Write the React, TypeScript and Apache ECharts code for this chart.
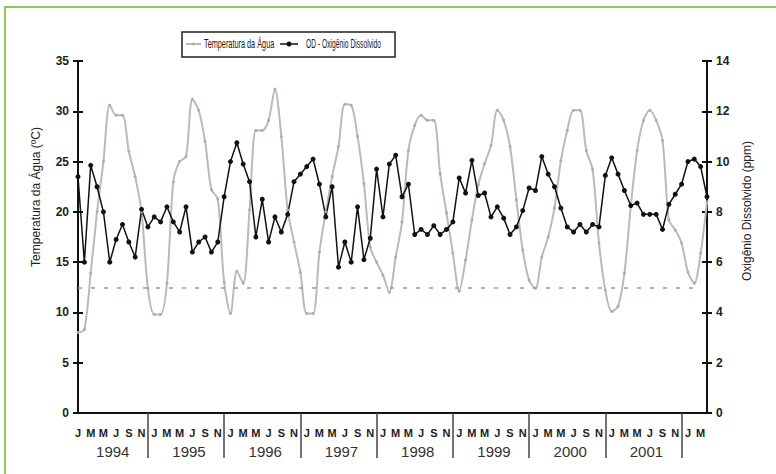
import React, { useEffect, useRef } from "react";
import * as echarts from "echarts";

const START_YEAR = 1994;
const MONTH_COUNT = 100;
const monthLetters = ["J", "F", "M", "A", "M", "J", "J", "A", "S", "O", "N", "D"];
const categories: string[] = Array.from({ length: MONTH_COUNT }, (_, i) => `${START_YEAR + Math.floor(i / 12)}/${(i % 12) + 1}`);

const temperatura = [
  8.0, 8.3, 13.9, 20.0, 25.0, 30.6, 29.6, 29.6, 26.0, 23.5, 20.0, 12.4,
  9.8, 9.8, 12.9, 23.0, 25.0, 25.5, 31.2, 30.1, 27.0, 22.2, 21.3, 13.0,
  9.9, 14.1, 12.9, 20.2, 28.1, 28.1, 29.1, 32.2, 27.5, 20.2, 17.0, 14.0,
  9.9, 9.9, 16.0, 20.0, 23.5, 26.5, 30.7, 30.6, 27.5, 22.8, 16.5, 15.0,
  13.7, 12.0, 15.5, 19.0, 26.1, 28.6, 29.6, 29.1, 29.1, 23.8, 19.9, 15.9,
  12.1, 15.2, 19.2, 22.7, 24.8, 26.6, 30.1, 29.1, 26.5, 21.2, 16.2, 13.2,
  12.4, 15.5, 17.5, 20.4, 25.1, 28.1, 30.1, 30.1, 26.1, 24.2, 16.9, 12.2,
  10.1, 10.6, 13.9, 20.5, 26.1, 29.1, 30.1, 29.1, 27.1, 19.2, 18.2, 16.9,
  14.0, 12.9, 15.9, 21.0,
];

const oxigenio = [
  9.4, 6.0, 9.85, 9.0, 8.0, 6.0, 6.9, 7.5, 6.8, 6.2, 8.1, 7.4,
  7.8, 7.6, 8.2, 7.6, 7.2, 8.2, 6.4, 6.8, 7.0, 6.4, 6.8, 8.6,
  10.0, 10.75, 9.9, 9.2, 7.0, 8.5, 6.8, 7.8, 7.2, 7.9, 9.2, 9.5,
  9.8, 10.1, 9.1, 7.8, 9.0, 5.8, 6.8, 6.0, 8.2, 6.1, 6.95, 9.7,
  7.8, 9.9, 10.25, 8.6, 9.1, 7.1, 7.3, 7.1, 7.45, 7.1, 7.3, 7.6,
  9.35, 8.75, 10.05, 8.65, 8.75, 7.8, 8.2, 7.75, 7.1, 7.4, 8.05, 8.95,
  8.85, 10.2, 9.5, 9.0, 8.15, 7.4, 7.2, 7.5, 7.2, 7.5, 7.4, 9.45,
  10.15, 9.5, 8.85, 8.25, 8.35, 7.9, 7.9, 7.9, 7.3, 8.3, 8.7, 9.1,
  10.0, 10.1, 9.8, 8.6,
];

const limiteTemperatura = 12.5;
const tempTicks = { min: 0, max: 35, interval: 5 };
const odTicks = { min: 0, max: 14, interval: 2 };
const legendNames = ["Temperatura da Água", "OD - Oxigênio Dissolvido"];

const FONT = "'Liberation Sans', Arial, sans-serif";
const GRAY = "#c0b8b5";
const BLACK = "#111";

export default function App() {
  const ref = useRef<HTMLDivElement>(null);
  useEffect(() => {
    if (!ref.current) return;
    const chart = echarts.init(ref.current, undefined, { renderer: "svg" });
    const axisLineStyle = { color: "#111", width: 2 };
    const legendText = (text: string, x: number, scaleX: number) => ({
      type: "text",
      x,
      y: 44,
      scaleX,
      style: { text, fontSize: 12, fontFamily: FONT, fill: "#1a1a1a", align: "left", verticalAlign: "middle" },
    });
    chart.setOption({
      animation: false,
      backgroundColor: "#ffffff",
      textStyle: { fontFamily: FONT },
      grid: { left: 78, right: 69, top: 61, bottom: 61, containLabel: false },
      xAxis: [
        {
          type: "category",
          data: categories,
          boundaryGap: false,
          position: "bottom",
          axisLine: { lineStyle: axisLineStyle },
          axisTick: { show: false },
          axisLabel: {
            interval: (i: number) => i % 2 === 0,
            formatter: (v: string) => monthLetters[Number(v.split("/")[1]) - 1],
            fontWeight: "bold",
            fontSize: 11,
            color: "#222",
            margin: 14,
          },
          splitLine: { show: false },
        },
        {
          type: "category",
          data: categories,
          boundaryGap: false,
          position: "bottom",
          axisLine: { show: false },
          axisTick: {
            show: true,
            interval: (i: number) => i % 12 === 11,
            length: 45,
            lineStyle: { color: "#444", width: 1.5 },
          },
          axisLabel: {
            interval: (i: number) => i % 12 === 5,
            formatter: (v: string) => v.split("/")[0],
            fontSize: 15,
            color: "#333",
            margin: 31,
            padding: [0, 0, 0, 6],
          },
          splitLine: { show: false },
        },
      ],
      yAxis: [
        {
          type: "value",
          position: "left",
          ...tempTicks,
          axisLine: { show: true, lineStyle: axisLineStyle },
          axisTick: { show: true, length: 5, lineStyle: axisLineStyle },
          axisLabel: { fontWeight: "bold", fontSize: 12, color: "#222", margin: 9 },
          splitLine: { show: false },
        },
        {
          type: "value",
          position: "right",
          ...odTicks,
          axisLine: { show: true, lineStyle: axisLineStyle },
          axisTick: { show: true, length: 5, lineStyle: axisLineStyle },
          axisLabel: { fontWeight: "bold", fontSize: 12, color: "#222", margin: 9 },
          splitLine: { show: false },
        },
        {
          type: "value",
          position: "left",
          ...tempTicks,
          axisLine: { show: false },
          axisTick: { show: true, inside: true, length: 5, lineStyle: axisLineStyle },
          axisLabel: { show: false },
          splitLine: { show: false },
        },
        {
          type: "value",
          position: "right",
          ...odTicks,
          axisLine: { show: false },
          axisTick: { show: true, inside: true, length: 5, lineStyle: axisLineStyle },
          axisLabel: { show: false },
          splitLine: { show: false },
        },
      ],
      series: [
        {
          name: legendNames[0],
          type: "line",
          xAxisIndex: 0,
          yAxisIndex: 0,
          data: temperatura,
          symbol: "circle",
          symbolSize: 3,
          showSymbol: true,
          showAllSymbol: true,
          smooth: 0.3,
          lineStyle: { color: GRAY, width: 2 },
          itemStyle: { color: "#b3aba8" },
          markLine: {
            silent: true,
            symbol: ["none", "none"],
            label: { show: false },
            lineStyle: { type: [4, 9], color: "#b0928a", width: 1.5 },
            data: [[{ coord: [categories[0], limiteTemperatura] }, { coord: [categories[98], limiteTemperatura] }]],
          },
        },
        {
          name: legendNames[1],
          type: "line",
          xAxisIndex: 0,
          yAxisIndex: 1,
          data: oxigenio,
          symbol: "circle",
          symbolSize: 5,
          showSymbol: true,
          showAllSymbol: true,
          lineStyle: { color: BLACK, width: 1.5 },
          itemStyle: { color: BLACK },
        },
      ],
      graphic: [
        {
          type: "rect",
          shape: { x: 5, y: 7, width: 800, height: 480 },
          style: { fill: "none", stroke: "#8cc95c", lineWidth: 2 },
          silent: true,
        },
        {
          type: "rect",
          shape: { x: 182, y: 32, width: 213, height: 25 },
          style: { fill: "#fff", stroke: "#222", lineWidth: 1.5 },
          silent: true,
        },
        { type: "line", shape: { x1: 186, y1: 44, x2: 201, y2: 44 }, style: { stroke: GRAY, lineWidth: 2 } },
        { type: "circle", shape: { cx: 193.5, cy: 44, r: 1.5 }, style: { fill: "#b3aba8" } },
        legendText(legendNames[0], 204, 0.61),
        { type: "line", shape: { x1: 280, y1: 44, x2: 298, y2: 44 }, style: { stroke: BLACK, lineWidth: 1.5 } },
        { type: "circle", shape: { cx: 289, cy: 44, r: 2.5 }, style: { fill: BLACK } },
        legendText(legendNames[1], 306, 0.56),
        {
          type: "text",
          x: 36,
          y: 197,
          rotation: Math.PI / 2,
          style: {
            text: "Temperatura da Água (ºC)",
            fontSize: 12,
            fontFamily: FONT,
            fill: "#222",
            align: "center",
            verticalAlign: "middle",
          },
        },
        {
          type: "text",
          x: 747,
          y: 211,
          rotation: Math.PI / 2,
          style: {
            text: "Oxigênio Dissolvido (ppm)",
            fontSize: 12,
            fontFamily: FONT,
            fill: "#222",
            align: "center",
            verticalAlign: "middle",
          },
        },
      ],
    });
    return () => chart.dispose();
  }, []);
  return <div ref={ref} style={{ width: 776, height: 474, position: "absolute", left: 0, top: 0 }} />;
}
